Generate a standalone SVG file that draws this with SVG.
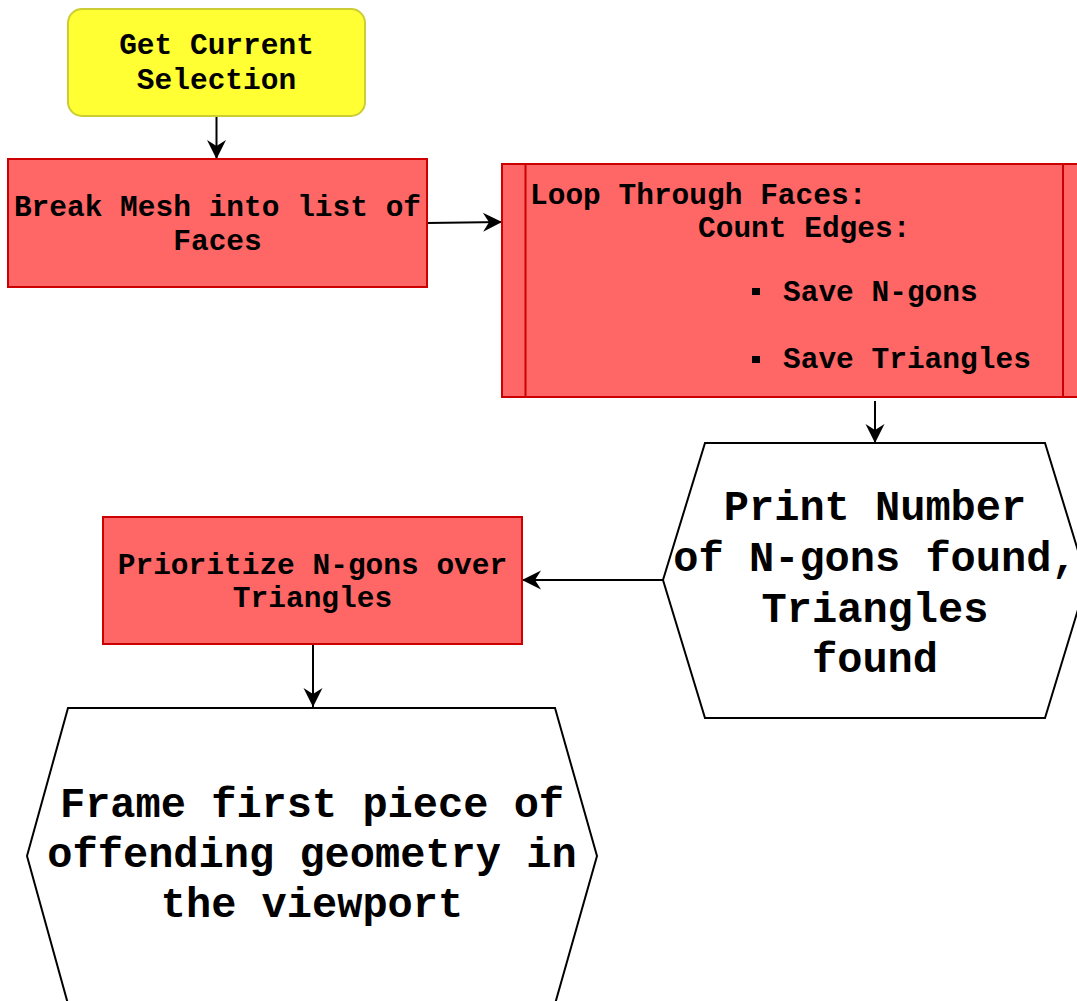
<svg xmlns="http://www.w3.org/2000/svg" width="1077" height="1001" viewBox="0 0 1077 1001">
<defs>
<style>
.t{font-family:"Liberation Mono","Courier New",monospace;font-weight:bold;fill:#000;}
.s{font-size:29.5px;}
.l{font-size:42px;}
.red{fill:#ff6666;stroke:#cc0000;stroke-width:2;}
.hex{fill:#ffffff;stroke:#000;stroke-width:2;}
.edge{fill:none;stroke:#000;stroke-width:2;marker-end:url(#arr);}
</style>
<marker id="arr" viewBox="-20 -10 21 20" refX="0" refY="0" markerUnits="userSpaceOnUse" markerWidth="21" markerHeight="20" orient="auto">
<path d="M0,0 L-19,-9.5 L-13,0 L-19,9.5 Z" fill="#000"/>
</marker>
</defs>
<rect width="1077" height="1001" fill="#ffffff"/>
<g id="connectors">
<path class="edge" d="M216.5,117 L216.5,159"/>
<path class="edge" d="M427,223 L502,222"/>
<path class="edge" d="M875,401 L875,443"/>
<path class="edge" d="M663,580 L522,580"/>
<path class="edge" d="M313,645 L313,707"/>
</g>
<g id="get-selection">
<rect x="68" y="9" width="297" height="107" rx="14" ry="14" fill="#ffff33" stroke="#cccc33" stroke-width="2"/>
<text class="t s" x="216.5" y="54" text-anchor="middle">Get Current</text>
<text class="t s" x="216.5" y="89" text-anchor="middle">Selection</text>
</g>
<g id="break-mesh">
<rect class="red" x="8" y="159" width="419" height="128"/>
<text class="t s" x="217.5" y="216" text-anchor="middle">Break Mesh into list of</text>
<text class="t s" x="217.5" y="250" text-anchor="middle">Faces</text>
</g>
<g id="loop-faces">
<rect class="red" x="502" y="164" width="584" height="233"/>
<line x1="525.5" y1="164" x2="525.5" y2="397" stroke="#cc0000" stroke-width="2"/>
<line x1="1063" y1="164" x2="1063" y2="397" stroke="#cc0000" stroke-width="2"/>
<text class="t s" x="530" y="204">Loop Through Faces:</text>
<text class="t s" x="698" y="237">Count Edges:</text>
<rect x="752" y="288" width="8" height="7" fill="#000"/>
<text class="t s" x="783" y="301">Save N-gons</text>
<rect x="752" y="356" width="8" height="7" fill="#000"/>
<text class="t s" x="783" y="368">Save Triangles</text>
</g>
<g id="print-number">
<polygon class="hex" points="705,443 1045,443 1087,580 1045,718 705,718 663,580"/>
<text class="t l" x="875" y="520" text-anchor="middle">Print Number</text>
<text class="t l" x="875" y="571" text-anchor="middle">of N-gons found,</text>
<text class="t l" x="875" y="622" text-anchor="middle">Triangles</text>
<text class="t l" x="875" y="672" text-anchor="middle">found</text>
</g>
<g id="prioritize">
<rect class="red" x="103" y="517" width="419" height="127"/>
<text class="t s" x="312.5" y="574" text-anchor="middle">Prioritize N-gons over</text>
<text class="t s" x="312.5" y="607" text-anchor="middle">Triangles</text>
</g>
<g id="frame-geometry">
<polygon class="hex" points="68,708 555,708 597,856 555,1004 68,1004 27,856"/>
<text class="t l" x="312" y="817" text-anchor="middle">Frame first piece of</text>
<text class="t l" x="312" y="867" text-anchor="middle">offending geometry in</text>
<text class="t l" x="312" y="917" text-anchor="middle">the viewport</text>
</g>
</svg>
